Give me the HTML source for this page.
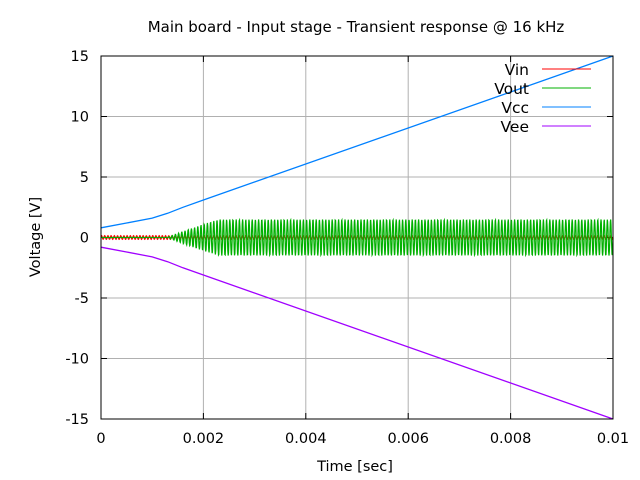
<!DOCTYPE html>
<html><head><meta charset="utf-8"><style>
body{margin:0;background:#fff}
svg{display:block;font-family:"DejaVu Sans","Liberation Sans",sans-serif}
</style></head><body>
<svg id="chart" width="640" height="480">
<text x="356" y="32" font-size="15" text-anchor="middle">Main board - Input stage - Transient response @ 16 kHz</text>
<g id="grid"></g>
<g id="ticks" font-size="14.5"></g>
<g id="series"></g>
<rect x="101" y="56" width="512" height="363" fill="none" stroke="#000" stroke-width="1"/>
<g id="legend" font-size="15.5"></g>
<text x="355" y="471" font-size="14.5" text-anchor="middle">Time [sec]</text>
<text transform="translate(40,237) rotate(-90)" font-size="14.5" text-anchor="middle">Voltage [V]</text>
</svg>
<script>
const xTicks=[0,0.002,0.004,0.006,0.008,0.01];
const xTickLabels=["0","0.002","0.004","0.006","0.008","0.01"];
const yTicks=[-15,-10,-5,0,5,10,15];
const yTickLabels=["-15","-10","-5","0","5","10","15"];
const vccTimes=[0,0.0005,0.001,0.0013,0.0016,0.002,0.01];
const vccValues=[0.8,1.2,1.6,2.0,2.5,3.1,15];
const veeValues=[-0.8,-1.2,-1.6,-2.0,-2.5,-3.1,-15];
const voutEnvTimes=[0,0.0013,0.0016,0.0018,0.002,0.0023,0.01];
const voutEnvValues=[0.0,0.02,0.5,0.8,1.1,1.5,1.5];
const vinAmplitude=0.15;
const freqHz=16000;
const NS="http://www.w3.org/2000/svg";
const X0=101,X1=613,Y0=419,Y1=56;
const xs=t=>X0+(t-0)/(0.01)*(X1-X0);
const ys=v=>Y0-(v+15)/30*(Y0-Y1);
function mk(tag,attrs,parent){const e=document.createElementNS(NS,tag);for(const k in attrs)e.setAttribute(k,attrs[k]);parent.appendChild(e);return e;}
function interp(ts,vs,t){for(let i=1;i<ts.length;i++){if(t<=ts[i]){const f=(t-ts[i-1])/(ts[i]-ts[i-1]);return vs[i-1]+f*(vs[i]-vs[i-1]);}}return vs[vs.length-1];}
const grid=document.getElementById('grid'),ticks=document.getElementById('ticks'),ser=document.getElementById('series'),leg=document.getElementById('legend');
xTicks.forEach((t,i)=>{const x=xs(t);
 if(i>0&&i<xTicks.length-1){const g=mk('line',{x1:x,x2:x,y1:Y1,y2:Y0,stroke:'#b0b0b0'},grid);}
 const a=mk('line',{x1:x,x2:x,y1:Y0,y2:Y0-6,stroke:'#000'},ticks);
 const b=mk('line',{x1:x,x2:x,y1:Y1,y2:Y1+6,stroke:'#000'},ticks);
 const l=mk('text',{x:x,y:443,'text-anchor':'middle'},ticks);l.textContent=xTickLabels[i];});
yTicks.forEach((v,i)=>{const y=ys(v);
 if(i>0&&i<yTicks.length-1){const g=mk('line',{x1:X0,x2:X1,y1:y,y2:y,stroke:'#b0b0b0'},grid);}
 const a=mk('line',{x1:X0,x2:X0+6,y1:y,y2:y,stroke:'#000'},ticks);
 const b=mk('line',{x1:X1,x2:X1-6,y1:y,y2:y,stroke:'#000'},ticks);
 const l=mk('text',{x:89,y:y+5,'text-anchor':'end'},ticks);l.textContent=yTickLabels[i];});
function poly(pts,color,name,w){const p=mk('polyline',{points:pts.map(q=>q[0].toFixed(1)+','+q[1].toFixed(1)).join(' '),fill:'none',stroke:color,'stroke-width':w||1},ser);}
const N=1530,dt=0.01/N;
const vout=[],vin=[];
for(let i=0;i<=N;i++){const t=i*dt;const s=Math.sin(2*Math.PI*freqHz*t);
 vout.push([xs(t),ys(interp(voutEnvTimes,voutEnvValues,t)*s)]);
 vin.push([xs(t),ys(vinAmplitude*Math.sin(2*Math.PI*freqHz*t+0.5))]);}
poly(vin,'#ff0000','vin-line',1.2);
poly(vout,'#00b000','vout-line',1.2);
poly(vccTimes.map((t,i)=>[xs(t),ys(vccValues[i])]),'#0080ff','vcc-line',1.3);
poly(vccTimes.map((t,i)=>[xs(t),ys(veeValues[i])]),'#a000ff','vee-line',1.3);
const entries=[["Vin","#ff0000"],["Vout","#00b000"],["Vcc","#0080ff"],["Vee","#a000ff"]];
entries.forEach((e,i)=>{const y=69+i*19;
 const t=mk('text',{x:529,y:y+6,'text-anchor':'end'},leg);t.textContent=e[0];
 const l=mk('line',{x1:542,x2:591,y1:y,y2:y,stroke:e[1]},leg);});
</script>
</body></html>
